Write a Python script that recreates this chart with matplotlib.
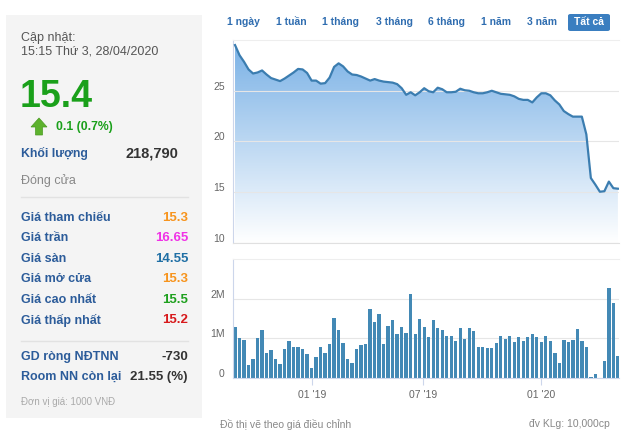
import matplotlib
matplotlib.use("Agg")
import matplotlib.pyplot as plt
import numpy as np
from matplotlib.patches import Rectangle, Polygon, FancyBboxPatch
from matplotlib.lines import Line2D
from matplotlib.transforms import ScaledTranslation

plt.rcParams['font.family'] = ['Liberation Sans', 'DejaVu Sans']

# weekly price (x1000 VND) and volume (millions of shares), Sep 2018 -> Apr 2020
price = [29.5, 28.5, 27.85, 27.1, 26.7, 26.8, 27.0, 26.6, 26.25, 26.1,
         25.95, 26.2, 26.5, 26.8, 27.15, 27.1, 26.75, 26.0, 26.0, 25.7,
         25.75, 26.3, 27.35, 27.7, 27.4, 26.9, 26.6, 26.55, 26.4, 26.2,
         26.0, 26.15, 26.0, 25.9, 25.85, 25.8, 25.65, 25.25, 24.6, 24.85,
         24.55, 24.85, 25.25, 24.95, 24.85, 25.3, 25.15, 24.85, 24.85, 24.9,
         25.2, 25.05, 25.0, 24.85, 24.75, 24.75, 24.85, 25.0, 24.85, 24.7,
         24.65, 24.6, 24.45, 24.2, 24.1, 24.1, 23.85, 24.35, 24.75, 24.75,
         24.55, 24.05, 23.65, 23.0, 22.7, 22.45, 22.45, 22.45, 20.7, 16.4,
         15.75, 15.05, 15.1, 16.05, 15.4, 15.35]
volume = [1.28, 1.01, 0.95, 0.34, 0.48, 1.01, 1.2, 0.62, 0.7, 0.48,
          0.36, 0.72, 0.94, 0.79, 0.79, 0.74, 0.61, 0.26, 0.53, 0.77,
          0.62, 0.86, 1.52, 1.22, 0.89, 0.48, 0.38, 0.73, 0.82, 0.86,
          1.75, 1.42, 1.62, 0.86, 1.32, 1.46, 1.11, 1.28, 1.13, 2.11,
          1.11, 1.49, 1.28, 1.04, 1.47, 1.26, 1.21, 1.06, 1.06, 0.94,
          1.26, 0.99, 1.26, 1.18, 0.79, 0.77, 0.76, 0.76, 0.88, 1.07,
          0.98, 1.05, 0.9, 1.03, 0.93, 1.03, 1.12, 1.03, 0.9, 1.05,
          0.93, 0.64, 0.37, 0.96, 0.9, 0.95, 1.23, 0.93, 0.78, 0.03,
          0.1, 0.0, 0.42, 2.27, 1.88, 0.55]
x_ticks = [17.2, 41.8, 68.0]
x_labels = ["01 '19", "07 '19", "01 '20"]

ranges = ["1 ngày", "1 tuần", "1 tháng", "3 tháng", "6 tháng", "1 năm", "3 năm", "Tất cả"]
range_x = [243, 291, 340, 394, 447, 496, 542, 589]

rows = ["Giá tham chiếu", "Giá trần", "Giá sàn", "Giá mở cửa", "Giá cao nhất", "Giá thấp nhất"]
row_vals = ["15.3", "16.65", "14.55", "15.3", "15.5", "15.2"]
row_cols = ["#f7941d", "#f032e6", "#1f6fa5", "#f7941d", "#1ea01e", "#d7191c"]

W, H = 630, 434
fig = plt.figure(figsize=(W / 100, H / 100), dpi=100)


def fx(x):
    return x / W


def fy(y):
    return 1 - y / H


def txt(x, y, s, **kw):
    kw.setdefault('va', 'center')
    fig.text(fx(x), fy(y), s, **kw)


# left info box
fig.patches.append(Rectangle((fx(6), fy(418)), fx(196), 403 / H, transform=fig.transFigure,
                             facecolor='#f4f4f4', edgecolor='none', zorder=0))
blue = '#2c5c9a'
fs = 9
txt(21, 38, "Cập nhật:", fontsize=fs, color='#555555')
txt(21, 52, "15:15 Thứ 3, 28/04/2020", fontsize=fs, color='#555555')
txt(20, 97, "15.4", fontsize=27, color='#1aa01a', fontweight='bold')
arrow = [(31, 127), (39, 118), (47, 127), (42.5, 127), (42.5, 135), (35.5, 135), (35.5, 127)]
fig.patches.append(Polygon([(fx(a), fy(b)) for a, b in arrow], closed=True, transform=fig.transFigure,
                           facecolor='#5db22e', edgecolor='#4a9a22', lw=0.5))
txt(56, 127, "0.1 (0.7%)", fontsize=8.8, color='#1aa01a', fontweight='bold')
txt(21, 153, "Khối lượng", fontsize=8.8, color=blue, fontweight='bold')
txt(178, 153, "218,790", fontsize=10.5, color='#333333', fontweight='bold', ha='right')
txt(21, 181, "Đóng cửa", fontsize=fs, color='#888888')
fig.lines.append(Line2D([fx(21), fx(188)], [fy(197), fy(197)], transform=fig.transFigure, color='#e2e2e2', lw=1))
for i, (lab, v, c) in enumerate(zip(rows, row_vals, row_cols)):
    yy = 218 + i * 20.4
    txt(21, yy, lab, fontsize=fs, color=blue, fontweight='bold')
    txt(188, yy, v, fontsize=9.5, color=c, fontweight='bold', ha='right')
fig.lines.append(Line2D([fx(21), fx(188)], [fy(341), fy(341)], transform=fig.transFigure, color='#e2e2e2', lw=1))
txt(21, 357, "GD ròng NĐTNN", fontsize=fs, color=blue, fontweight='bold')
txt(188, 357, "-730", fontsize=9.5, color='#333333', fontweight='bold', ha='right')
txt(21, 377, "Room NN còn lại", fontsize=fs, color=blue, fontweight='bold')
txt(188, 377, "21.55 (%)", fontsize=9.5, color='#333333', fontweight='bold', ha='right')
txt(21, 402, "Đơn vị giá: 1000 VNĐ", fontsize=7, color='#aaaaaa')

# range buttons
fig.patches.append(FancyBboxPatch((fx(568), fy(31)), fx(42), 17 / H, transform=fig.transFigure,
                                  boxstyle='round,pad=0,rounding_size=0.004', facecolor='#3a7ec0', edgecolor='none'))
for s, xx in zip(ranges, range_x):
    txt(xx, 22, s, fontsize=7.5, fontweight='bold', ha='center',
        color='white' if s == "Tất cả" else '#2f6db0')

grid_c = '#e6e6e6'
axis_c = '#ccd6eb'
lab_c = '#666666'
shift = ScaledTranslation(0, 5 / 100, fig.dpi_scale_trans)
xi = np.arange(len(price))

# price panel
ax = fig.add_axes([fx(233), fy(243), fx(386), 203 / H])
ax.set_xlim(-0.45, len(price) - 0.75)
ax.set_ylim(10, 30)
poly = ax.fill_between(xi, price, 10, color='none', lw=0)
grad = np.linspace(0, 1, 256).reshape(-1, 1)
top = np.array([0.47, 0.69, 0.9])
bot = np.array([1.0, 1.0, 1.0])
img = top[None, None, :] * (1 - grad[..., None]) + bot[None, None, :] * grad[..., None]
im = ax.imshow(img, extent=[-0.45, len(price) - 0.75, 10, 30], aspect='auto', origin='upper', zorder=1)
im.set_clip_path(poly.get_paths()[0], transform=ax.transData)
ax.plot(xi, price, color='#3b7db0', lw=1.6, zorder=3)
ax.set_yticks([10, 15, 20, 25])
ax.set_xticks([])
ax.grid(axis='y', color=grid_c, lw=0.8, zorder=0)
ax.tick_params(axis='y', length=0, labelsize=7.5, labelcolor=lab_c, pad=6)
for t in ax.get_yticklabels():
    t.set_transform(t.get_transform() + shift)
ax.spines['right'].set_visible(False)
ax.spines['top'].set_color('#eeeeee')
ax.spines['bottom'].set_color('#e0e0e0')
ax.spines['left'].set_color(axis_c)

# volume panel
ax2 = fig.add_axes([fx(233), fy(378), fx(386), 119 / H])
ax2.bar(xi, volume, width=0.75, color='#4389b5', zorder=2)
ax2.set_xlim(-0.45, len(price) - 0.75)
ax2.set_ylim(0, 3)
ax2.set_yticks([0, 1, 2])
ax2.set_yticklabels(["0", "1M", "2M"])
ax2.set_xticks(x_ticks)
ax2.set_xticklabels(x_labels)
ax2.grid(axis='y', color=grid_c, lw=0.8, zorder=0)
ax2.tick_params(axis='y', length=0, labelsize=7.5, labelcolor=lab_c, pad=6)
ax2.tick_params(axis='x', length=5, color=axis_c, labelsize=7.5, labelcolor=lab_c, pad=4)
for t in ax2.get_yticklabels():
    t.set_transform(t.get_transform() + shift)
ax2.spines['right'].set_visible(False)
ax2.spines['top'].set_color('#eeeeee')
ax2.spines['bottom'].set_color(axis_c)
ax2.spines['left'].set_color(axis_c)

txt(220, 424, "Đồ thị vẽ theo giá điều chỉnh", fontsize=7.5, color='#888888')
txt(610, 424, "đv KLg: 10,000cp", fontsize=7.5, color='#888888', ha='right')

fig.savefig("out.png", dpi=100)
